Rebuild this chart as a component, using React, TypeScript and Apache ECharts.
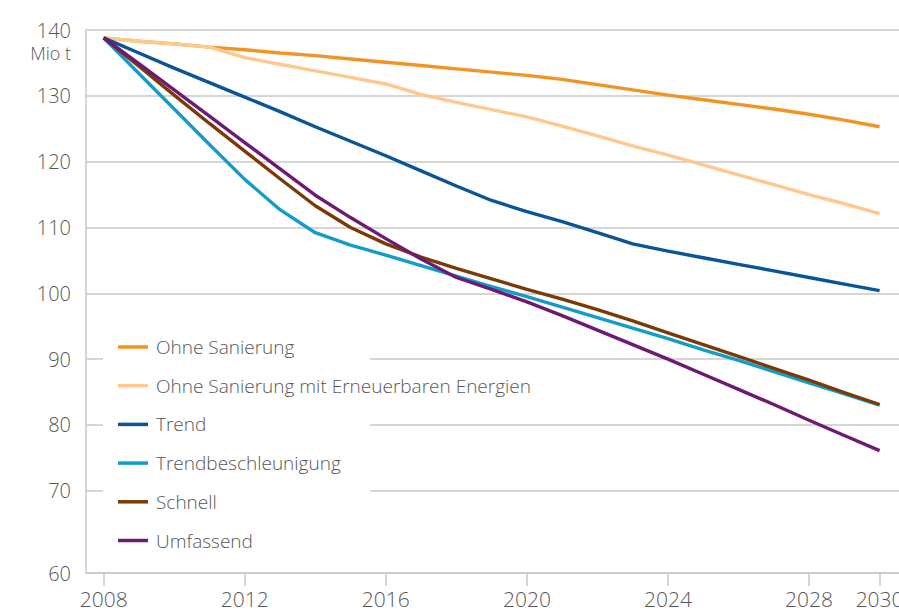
import React, { useEffect, useRef } from "react";
import * as echarts from "echarts";

const years = [2008, 2009, 2010, 2011, 2012, 2013, 2014, 2015, 2016, 2017, 2018, 2019, 2020, 2021, 2022, 2023, 2024, 2025, 2026, 2027, 2028, 2029, 2030];

const ohneSanierung = [138.8, 138.3, 137.9, 137.4, 137.0, 136.5, 136.1, 135.6, 135.1, 134.6, 134.1, 133.6, 133.1, 132.5, 131.7, 130.9, 130.1, 129.4, 128.7, 128.0, 127.2, 126.3, 125.3];
const ohneSanierungEE = [138.8, 138.3, 137.9, 137.4, 135.8, 134.8, 133.8, 132.8, 131.8, 130.2, 129.0, 127.9, 126.8, 125.4, 123.9, 122.4, 121.0, 119.5, 118.0, 116.5, 115.0, 113.6, 112.1];
const trend = [138.8, 136.5, 134.2, 132.0, 129.8, 127.6, 125.3, 123.1, 120.9, 118.6, 116.3, 114.1, 112.4, 110.9, 109.2, 107.5, 106.4, 105.4, 104.4, 103.4, 102.4, 101.4, 100.4];
const trendbeschleunigung = [138.8, 133.4, 128.0, 122.6, 117.3, 112.7, 109.2, 107.3, 105.8, 104.2, 102.6, 101.0, 99.5, 97.9, 96.3, 94.7, 93.1, 91.4, 89.8, 88.1, 86.4, 84.7, 83.0];
const schnell = [138.8, 134.5, 130.1, 125.8, 121.6, 117.4, 113.3, 110.0, 107.5, 105.5, 103.8, 102.2, 100.6, 99.1, 97.5, 95.8, 94.0, 92.2, 90.4, 88.6, 86.8, 84.9, 83.1];
const umfassend = [138.8, 134.9, 130.9, 126.9, 122.9, 118.9, 114.9, 111.5, 108.3, 105.2, 102.4, 100.6, 98.7, 96.6, 94.4, 92.2, 90.0, 87.7, 85.4, 83.1, 80.7, 78.4, 76.1];

const seriesNames = [
  "Ohne Sanierung",
  "Ohne Sanierung mit Erneuerbaren Energien",
  "Trend",
  "Trendbeschleunigung",
  "Schnell",
  "Umfassend",
];
const seriesValues = [ohneSanierung, ohneSanierungEE, trend, trendbeschleunigung, schnell, umfassend];
const seriesColors = ["#F39323", "#FFC88C", "#0B5596", "#129DC9", "#7A3A06", "#6E1A72"];

const xTicks = [2008, 2012, 2016, 2020, 2024, 2028, 2030];
// bottom of the (broken) value axis is labelled 60
const yAxisBottom = 57.5;
const yTicks = [57.5, 70, 80, 90, 100, 110, 120, 130, 140];
const yTickLabels = ["60", "70", "80", "90", "100", "110", "120", "130", "140"];
const unitLabel = "Mio t";

const FONT = "'Open Sans', Lato, sans-serif";
const TEXT = "#575757";
const GRID = "#c9c9c9";

export default function App() {
  const ref = useRef<HTMLDivElement>(null);
  useEffect(() => {
    if (!ref.current) return;
    const chart = echarts.init(ref.current, undefined, { renderer: "svg" });
    chart.setOption({
      animation: false,
      backgroundColor: "#ffffff",
      textStyle: { fontFamily: FONT },
      grid: { left: 86, right: 0, top: 30, bottom: 38, containLabel: false, outerBoundsMode: "none" },
      xAxis: {
        type: "value",
        min: 2007.5,
        max: 2030.55,
        axisLine: { show: true, lineStyle: { color: GRID, width: 1.5 } },
        axisTick: {
          show: true,
          customValues: xTicks,
          length: 13,
          lineStyle: { color: GRID, width: 1.5 },
        },
        axisLabel: {
          customValues: xTicks,
          formatter: (v: number) => String(v),
          fontSize: 21,
          lineHeight: 21,
          fontWeight: 300,
          color: TEXT,
          fontFamily: FONT,
          margin: 15,
        },
        splitLine: { show: false },
      },
      yAxis: {
        type: "value",
        min: yAxisBottom,
        max: 140,
        axisLine: { show: true, lineStyle: { color: GRID, width: 1.5 } },
        axisTick: { show: false, customValues: yTicks },
        axisLabel: {
          customValues: yTicks,
          formatter: (v: number) => {
            const i = yTicks.indexOf(v);
            return i >= 0 ? yTickLabels[i] : "";
          },
          fontSize: 20,
          lineHeight: 20,
          fontWeight: 300,
          color: TEXT,
          fontFamily: FONT,
          margin: 15,
        },
        splitLine: { show: true, lineStyle: { color: GRID, width: 1.5 } },
      },
      legend: {
        orient: "vertical",
        left: 118,
        top: 337,
        padding: 0,
        itemGap: 18.7,
        itemWidth: 30,
        itemHeight: 3.5,
        icon: "rect",
        data: seriesNames,
        textStyle: {
          fontSize: 19,
          fontWeight: 300,
          lineHeight: 20,
          color: TEXT,
          fontFamily: FONT,
          padding: [0, 0, 0, 3],
        },
      },
      graphic: [
        {
          type: "rect",
          z: 3,
          shape: { x: 103, y: 320, width: 267, height: 240 },
          style: { fill: "#ffffff" },
        },
        {
          type: "text",
          z: 5,
          x: 71,
          y: 53,
          style: {
            text: unitLabel,
            fill: TEXT,
            fontSize: 18,
            lineHeight: 18,
            fontWeight: 300,
            fontFamily: FONT,
            align: "right",
            verticalAlign: "middle",
            textAlign: "right",
            textVerticalAlign: "middle",
          },
        },
      ],
      series: seriesNames.map((name, i) => ({
        name,
        type: "line",
        data: years.map((y, j) => [y, seriesValues[i][j]]),
        showSymbol: false,
        symbol: "none",
        color: seriesColors[i],
        lineStyle: { color: seriesColors[i], width: 3.4 },
        z: 2,
      })),
    });
    return () => chart.dispose();
  }, []);
  return (
    <div
      ref={ref}
      style={{ position: "fixed", left: 0, top: 0, width: 899, height: 611 }}
    />
  );
}
